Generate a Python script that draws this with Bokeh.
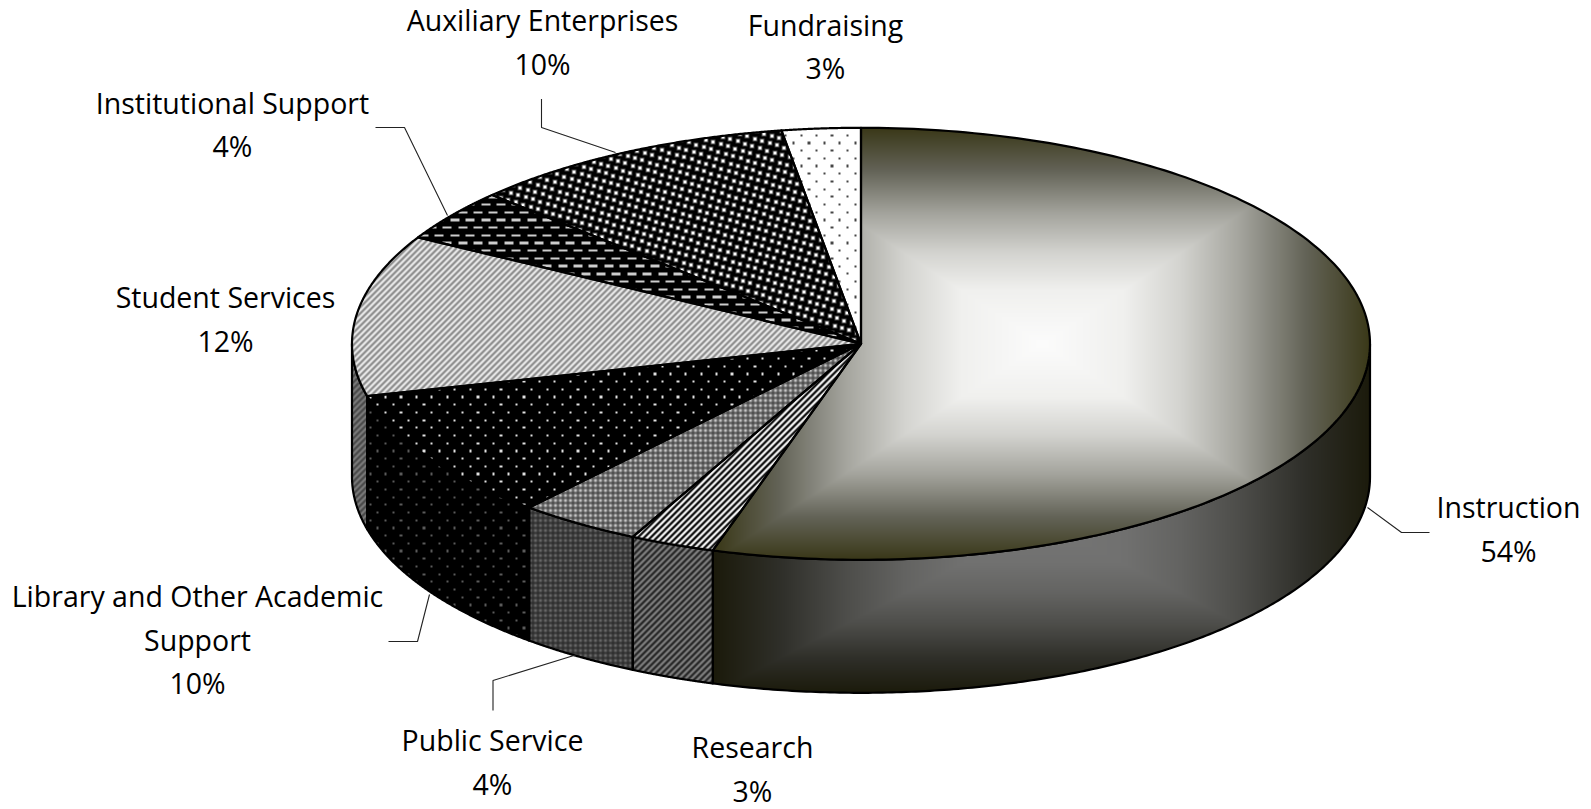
import numpy as np
from bokeh.plotting import figure
from bokeh.models import Range1d
from bokeh.core.properties import value
from bokeh.embed import file_html
from bokeh.resources import INLINE

categories = ["Instruction", "Research", "Public Service", "Library and Other Academic\nSupport",
              "Student Services", "Institutional Support", "Auxiliary Enterprises", "Fundraising"]
pct_labels = ["54%", "3%", "4%", "10%", "12%", "4%", "10%", "3%"]
# sweep of each slice
sweeps = [54.7, 2.7, 3.9, 9.8, 12.1, 3.9, 10.4, 2.5]

W, H = 1591, 809
CX, CY, RX, RY, DEPTH = 860.5, 343.3, 509.0, 216.0, 133.0
label_pos = [(1508, 506.5), (752, 746.5), (492, 739.5), (197, 595.5), (225, 296.5), (232, 102), (542, 19.8), (825, 24)]
LINE_H = 43.6
FONT_PX = 28.5
leaders = [
    [(1367, 507), (1401, 532), (1429, 532)],
    [(575, 654.5), (492.5, 680), (492.5, 710)],
    [(429, 594), (417, 641), (388, 641)],
    [(375, 127), (404, 127), (447, 215)],
    [(541, 98.5), (541, 127), (615, 152)],
]


def Y(sy):
    return H - np.asarray(sy, dtype=float)


edges = np.concatenate([[0], np.cumsum(sweeps)]) * 3.6
yy, xx = np.mgrid[0:H, 0:W]
px, py = xx + 0.5, yy + 0.5
nx, ny = (px - CX) / RX, (py - CY) / RY
in_ell = nx**2 + ny**2 <= 1.0
top_t = np.degrees(np.arctan2(nx, -ny)) % 360
clip_nx = np.clip(nx, -1, 1)
arc = np.sqrt(1 - clip_nx**2)
side_t = 180 - np.degrees(np.arcsin(clip_nx))
in_side = (np.abs(nx) <= 1) & (py >= CY + RY * arc) & (py <= CY + DEPTH + RY * arc)


def lattice_dots(w, h, base, dot):
    """staggered dot lattice: 15.4 px wide, 7.7 px rows"""
    a = np.full(xx.shape, float(base))
    row = np.floor(py / 7.7).astype(int)
    col = (px + (row % 2) * 7.7) % 15.4
    rr = (py % 7.7)
    m = (np.abs(col - 7.7) < w / 2) & (np.abs(rr - 3.85) < h / 2)
    a[m] = dot
    return a


def aux_pat():
    a = np.zeros(xx.shape)
    ax, ay, bx, by = 7.4, 2.3, -2.3, 7.4
    pts = []
    for i in range(-20, 300):
        for j in range(-60, 170):
            x0i = int(round(i * ax + j * bx))
            y0i = int(round(i * ay + j * by))
            if 1 <= x0i < W - 6 and 1 <= y0i < H - 6:
                pts.append((x0i, y0i))
    for x0i, y0i in pts:
        a[y0i - 1:y0i + 4, x0i - 1:x0i + 4] = 70
    for x0i, y0i in pts:
        a[y0i:y0i + 3, x0i:x0i + 3] = 255
    return a


def stripes(period, lo, hi, gain=1.0):
    v = (0.5 + 0.5 * gain * np.cos(2 * np.pi * (px + py) / period)).clip(0, 1)
    return lo + (hi - lo) * v


def plaid(period, lo, hi):
    c = (1 + np.cos(2 * np.pi * px / period)) / 2
    d = (1 + np.cos(2 * np.pi * py / period)) / 2
    return lo + (hi - lo) * (0.15 * c + 0.15 * d + 0.7 * c * d)


T_ST = [0, .25, .42, .6, .8, 1]
T_R = [252, 240, 212, 165, 100, 58]
T_G = [252, 240, 212, 165, 100, 56]
T_B = [252, 238, 208, 158, 88, 24]


def rect_gradient(cy, hh, k):
    t = np.maximum(np.abs(px - 1042) / 328.5, np.abs(py - cy) / hh).clip(0, 1)
    return np.stack([np.interp(t, T_ST, c) * k for c in (T_R, T_G, T_B)], axis=-1)


def gray(a):
    return np.stack([a, a, a], axis=-1)


def make_top(i):
    if i == 0:
        return rect_gradient(CY, RY, 1.0)
    if i == 1:
        return gray(stripes(6.4, 0, 255, 1.7))
    if i == 2:
        return gray(plaid(5, 70, 225))
    if i == 3:
        return gray(lattice_dots(2.2, 2.2, 0, 225))
    if i == 4:
        return gray(stripes(6.2, 135, 240, 1.4))
    if i == 5:
        return gray(lattice_dots(9, 2.4, 0, 205))
    if i == 6:
        return gray(aux_pat())
    return gray(lattice_dots(2.2, 2.2, 255, 70))


def make_side(i):
    if i == 0:
        return rect_gradient(CY + 178, 171, 0.47)
    if i == 1:
        return gray(stripes(6.4, 35, 130, 1.5))
    if i == 2:
        return gray(plaid(5, 45, 115))
    if i == 3:
        return gray(lattice_dots(2.2, 2.2, 0, 90))
    return gray(stripes(6.2, 70, 125, 1.4))


def add_image(p, rgb, mask):
    ys, xs = np.where(mask)
    if len(xs) == 0:
        return
    x0, x1, y0, y1 = xs.min(), xs.max() + 1, ys.min(), ys.max() + 1
    h, w = y1 - y0, x1 - x0
    img = np.zeros((h, w, 4), dtype=np.uint8)
    img[..., :3] = np.clip(rgb[y0:y1, x0:x1], 0, 255).astype(np.uint8)
    img[..., 3] = mask[y0:y1, x0:x1] * 255
    p.image_rgba(image=[np.flipud(img).view(np.uint32).reshape(h, w)],
                 x=int(x0), y=float(H - y1), dw=int(w), dh=int(h))


def top_poly(a0, a1):
    t = np.radians(np.linspace(a0, a1, 200))
    return (np.r_[CX, CX + RX * np.sin(t)], np.r_[CY, CY - RY * np.cos(t)])


def side_poly(a0, a1):
    t = np.radians(np.linspace(a0, a1, 200))
    ax, ay = CX + RX * np.sin(t), CY - RY * np.cos(t)
    return np.r_[ax, ax[::-1]], np.r_[ay, ay[::-1] + DEPTH]


p = figure(width=W, height=H, output_backend="svg", toolbar_location=None,
           x_range=Range1d(0, W), y_range=Range1d(0, H), min_border=0)
p.axis.visible = False
p.grid.visible = False
p.outline_line_color = None
p.background_fill_color = "white"
p.border_fill_color = "white"

mean_top = ["#a8a8a2", "#808080", "#909090", "#111111", "#b8b8b8", "#2a2a2a", "#555555", "#f4f4f4"]
mean_side = ["#3c3c34", "#555555", "#505050", "#050505", "#606060", "#111111", "#222222", "#777777"]

# front wall
side_x, side_y, side_fill = [], [], []
for i in range(len(sweeps)):
    a0, a1 = max(edges[i], 90), min(edges[i + 1], 270)
    if a0 < a1:
        sx, sy = side_poly(a0, a1)
        side_x.append(sx); side_y.append(Y(sy)); side_fill.append(mean_side[i])
p.patches(side_x, side_y, fill_color=side_fill, line_color=None)
for i in range(len(sweeps)):
    a0, a1 = max(edges[i], 90), min(edges[i + 1], 270)
    if a0 < a1:
        add_image(p, make_side(i), in_side & (side_t >= a0) & (side_t < a1))
p.patches(side_x, side_y, fill_alpha=0, line_color="black", line_width=2.2, line_join="round")

# top face
top_x, top_y = [], []
for i in range(len(sweeps)):
    tx, ty = top_poly(edges[i], edges[i + 1])
    top_x.append(tx); top_y.append(Y(ty))
p.patches(top_x, top_y, fill_color=mean_top, line_color=None)
for i in range(len(sweeps)):
    add_image(p, make_top(i), in_ell & (top_t >= edges[i]) & (top_t < edges[i + 1]))
p.patches(top_x, top_y, fill_alpha=0, line_color="black", line_width=2.2, line_join="round")

# leader lines
p.multi_line([[q[0] for q in l] for l in leaders], [list(Y([q[1] for q in l])) for l in leaders],
             line_color="#222222", line_width=1.1)

# labels
tx, ty, tt = [], [], []
for cat, pct, (lx, ly) in zip(categories, pct_labels, label_pos):
    for k, line in enumerate(cat.split("\n") + [pct]):
        tx.append(lx); ty.append(float(Y(ly + k * LINE_H))); tt.append(line)
p.text(tx, ty, text=tt, text_font=value("Open Sans"), text_font_size=f"{FONT_PX}px",
       text_align="center", text_baseline="middle", text_color="black")

open("out.html", "w").write(file_html(p, INLINE))
